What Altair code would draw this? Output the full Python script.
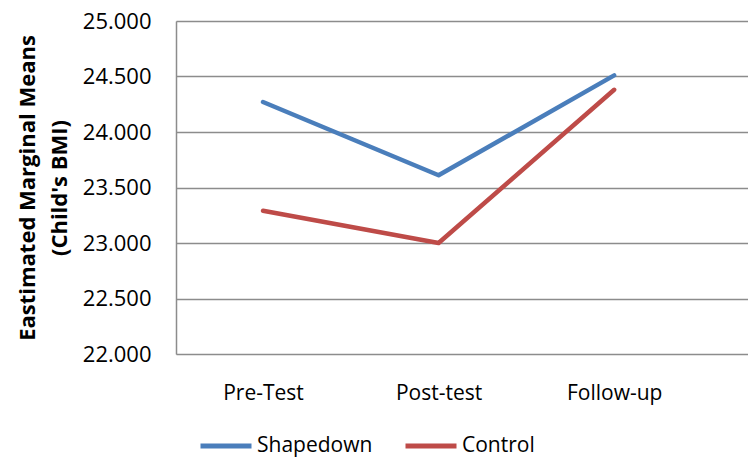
import altair as alt
import pandas as pd

phases = ["Pre-Test", "Post-test", "Follow-up"]
shapedown = [24.27, 23.61, 24.51]
control = [23.29, 23.00, 24.38]
groups = ["Shapedown", "Control"]
colors = ["#4A7EBB", "#BE4B48"]
y_ticks = [22.0, 22.5, 23.0, 23.5, 24.0, 24.5, 25.0]

rows = []
for p, v in zip(phases, shapedown):
    rows.append({"phase": p, "group": "Shapedown", "value": v})
for p, v in zip(phases, control):
    rows.append({"phase": p, "group": "Control", "value": v})
df = pd.DataFrame(rows)

FONT = "Open Sans"

chart = alt.Chart(df).mark_line(strokeWidth=4.5, strokeCap="round", strokeJoin="round").encode(
    x=alt.X("phase:N", sort=phases,
            scale=alt.Scale(type="point", padding=0.629, align=0.394),
            axis=alt.Axis(title=None, labelAngle=0, ticks=False, domain=False, grid=False,
                          labelFont=FONT, labelFontSize=21, labelColor="#000000",
                          labelPadding=28)),
    y=alt.Y("value:Q",
            scale=alt.Scale(domain=[22, 25], nice=False, zero=False),
            axis=alt.Axis(title=["Eastimated Marginal Means", "(Child's BMI)"],
                          values=y_ticks, format=".3f", ticks=False,
                          domain=True, domainColor="#8C8C8C", domainWidth=1.5,
                          grid=True, gridColor="#8C8C8C", gridWidth=1.5,
                          labelFont=FONT, labelFontSize=22, labelColor="#000000",
                          labelPadding=25,
                          titleFont=FONT, titleFontSize=22, titleFontWeight="bold",
                          titleColor="#000000", titlePadding=11, titleLineHeight=32)),
    color=alt.Color("group:N", sort=groups,
                    scale=alt.Scale(domain=groups, range=colors),
                    legend=alt.Legend(title=None, orient="none", direction="horizontal",
                                      legendX=22, legendY=397,
                                      symbolType="stroke", symbolSize=2601,
                                      symbolStrokeWidth=5, symbolOffset=0,
                                      labelFont=FONT, labelFontSize=21, labelColor="#000000",
                                      labelOffset=3, columnPadding=22)),
).properties(
    width=572, height=333,
    padding={"left": 176, "top": 21, "right": 0, "bottom": 104},
    autosize=alt.AutoSizeParams(type="none"),
).configure_view(stroke=None).configure(background="white")

chart.save("out.html", embed_options={"renderer": "svg", "actions": False})
